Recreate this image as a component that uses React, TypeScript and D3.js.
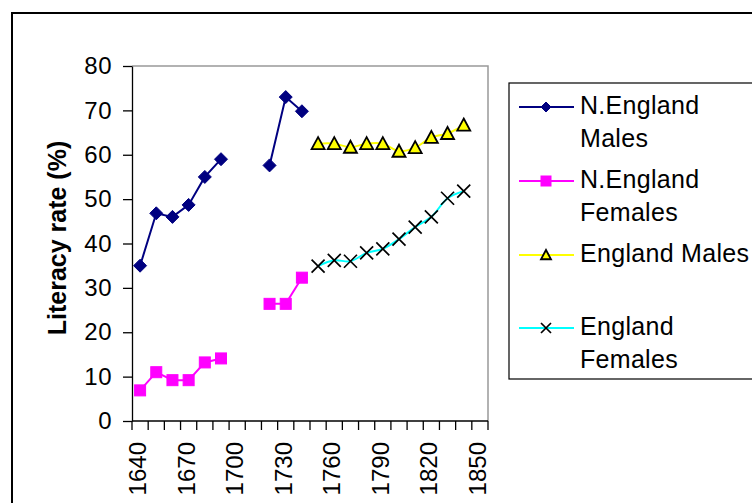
import React, { useRef, useEffect } from 'react';
import * as d3 from 'd3';

const years = [1640, 1650, 1660, 1670, 1680, 1690, 1700, 1710, 1720, 1730, 1740,
  1750, 1760, 1770, 1780, 1790, 1800, 1810, 1820, 1830, 1840, 1850];
const labelYears = [1640, 1670, 1700, 1730, 1760, 1790, 1820, 1850];
const yTicks = [0, 10, 20, 30, 40, 50, 60, 70, 80];

// 1640 - 1740
const nEnglandYears = [1640, 1650, 1660, 1670, 1680, 1690, 1700, 1710, 1720, 1730, 1740];
const nEnglandMales = [35, 46.8, 46, 48.7, 55, 59, null, null, 57.6, 73, 69.8];
const nEnglandFemales = [6.9, 11, 9.2, 9.2, 13.2, 14.1, null, null, 26.4, 26.4, 32.3];

// 1750 - 1840
const englandYears = [1750, 1760, 1770, 1780, 1790, 1800, 1810, 1820, 1830, 1840];
const englandMales = [62.5, 62.5, 61.7, 62.5, 62.5, 60.8, 61.6, 63.9, 64.8, 66.7];
const englandFemales = [34.9, 36.2, 36, 37.9, 38.8, 41, 43.7, 46, 50.2, 51.8];

const legendItems = [
  { lines: ['N.England', 'Males'], color: '#000080', marker: 'diamond' },
  { lines: ['N.England', 'Females'], color: '#FF00FF', marker: 'square' },
  { lines: ['England Males'], color: '#FFFF00', marker: 'triangle' },
  { lines: ['England', 'Females'], color: '#00FFFF', marker: 'cross' }
];

const FONT = '"Liberation Sans", Arial, sans-serif';

export default function App() {
  const svgRef = useRef<SVGSVGElement>(null);

  useEffect(() => {
    if (!svgRef.current) return;
    const svg = d3.select(svgRef.current);
    svg.selectAll('*').remove();

    const plot = { left: 132, right: 488, top: 66, bottom: 421 };

    const x = d3.scaleBand<string>()
      .domain(years.map(String))
      .range([plot.left, plot.right]);
    const y = d3.scaleLinear().domain([0, 80]).range([plot.bottom, plot.top]);
    const cx = (yr: number) => x(String(yr))! + x.bandwidth() / 2;

    // outer chart border
    svg.append('rect')
      .attr('x', 12).attr('y', 13)
      .attr('width', 800).attr('height', 600)
      .attr('fill', 'white')
      .attr('stroke', 'black')
      .attr('stroke-width', 2);

    // plot area border (grey top / right)
    svg.append('path')
      .attr('d', `M${plot.left},${plot.top}H${plot.right}V${plot.bottom}`)
      .attr('fill', 'none')
      .attr('stroke', '#999')
      .attr('stroke-width', 1.5);

    // y axis
    const yAxis = svg.append('g')
      .attr('transform', `translate(${plot.left},0)`)
      .call(d3.axisLeft(y).tickValues(yTicks).tickSize(9).tickSizeOuter(0).tickPadding(11));
    yAxis.select('.domain').attr('stroke', 'black').attr('stroke-width', 1.3);
    yAxis.selectAll('.tick line').attr('stroke', 'black').attr('stroke-width', 1.3);
    yAxis.selectAll('.tick text')
      .attr('font-family', FONT)
      .attr('font-size', 24)
      .attr('letter-spacing', 0.5)
      .attr('fill', 'black');

    // x axis
    svg.append('line')
      .attr('x1', plot.left).attr('x2', plot.right)
      .attr('y1', plot.bottom).attr('y2', plot.bottom)
      .attr('stroke', 'black').attr('stroke-width', 1.3);
    const boundaries = years.map(yr => x(String(yr))!).concat([plot.right]);
    svg.append('g').selectAll('line')
      .data(boundaries)
      .enter()
      .append('line')
      .attr('x1', d => d).attr('x2', d => d)
      .attr('y1', plot.bottom).attr('y2', plot.bottom + 9)
      .attr('stroke', 'black').attr('stroke-width', 1.3);
    svg.append('g').selectAll('text')
      .data(labelYears)
      .enter()
      .append('text')
      .attr('transform', d => `translate(${cx(d) + 6},${plot.bottom + 21}) rotate(-90)`)
      .attr('text-anchor', 'end')
      .attr('font-family', FONT)
      .attr('font-size', 24)
      .attr('fill', 'black')
      .text(d => d);

    // y axis title
    svg.append('text')
      .attr('transform', 'translate(66,238) rotate(-90)')
      .attr('text-anchor', 'middle')
      .attr('font-family', FONT)
      .attr('font-size', 25)
      .attr('font-weight', 'bold')
      .attr('fill', 'black')
      .text('Literacy rate (%)');

    type Pt = { yr: number; v: number | null };
    const toPts = (ys: number[], vs: (number | null)[]): Pt[] => ys.map((yr, i) => ({ yr, v: vs[i] }));

    const straight = d3.line<Pt>()
      .defined(d => d.v !== null)
      .x(d => cx(d.yr))
      .y(d => y(d.v as number));
    const smooth = d3.line<Pt>()
      .x(d => cx(d.yr))
      .y(d => y(d.v as number))
      .curve(d3.curveCatmullRom.alpha(0.5));

    const nem = toPts(nEnglandYears, nEnglandMales);
    const nef = toPts(nEnglandYears, nEnglandFemales);
    const em = toPts(englandYears, englandMales);
    const ef = toPts(englandYears, englandFemales);

    const drawMarker = (g: any, kind: string, px: number, py: number, size: number, color: string) => {
      const s = size / 2;
      if (kind === 'diamond') {
        g.append('path')
          .attr('d', `M${px},${py - s}L${px + s},${py}L${px},${py + s}L${px - s},${py}Z`)
          .attr('fill', color).attr('stroke', color).attr('stroke-width', 1);
      } else if (kind === 'square') {
        g.append('rect')
          .attr('x', px - s).attr('y', py - s)
          .attr('width', size).attr('height', size)
          .attr('fill', color).attr('stroke', color).attr('stroke-width', 1);
      } else if (kind === 'triangle') {
        g.append('path')
          .attr('d', `M${px},${py - s}L${px + s},${py + s * 0.85}L${px - s},${py + s * 0.85}Z`)
          .attr('fill', color).attr('stroke', 'black').attr('stroke-width', 1.8);
      } else {
        g.append('path')
          .attr('d', `M${px - s},${py - s}L${px + s},${py + s}M${px - s},${py + s}L${px + s},${py - s}`)
          .attr('stroke', 'black').attr('stroke-width', 1.7).attr('fill', 'none');
      }
    };

    const series = [
      { pts: nem, line: straight, color: '#000080', marker: 'diamond', size: 13 },
      { pts: nef, line: straight, color: '#FF00FF', marker: 'square', size: 11 },
      { pts: em, line: smooth, color: '#FFFF00', marker: 'triangle', size: 13 },
      { pts: ef, line: smooth, color: '#00FFFF', marker: 'cross', size: 13 }
    ];

    series.forEach(s => {
      svg.append('path')
        .attr('d', s.line(s.pts))
        .attr('fill', 'none')
        .attr('stroke', s.color)
        .attr('stroke-width', 2);
    });
    series.forEach(s => {
      const g = svg.append('g');
      s.pts.filter(p => p.v !== null).forEach(p => {
        drawMarker(g, s.marker, cx(p.yr), y(p.v as number), s.size, s.color);
      });
    });

    // legend
    const legend = svg.append('g');
    legend.append('rect')
      .attr('x', 509).attr('y', 83)
      .attr('width', 300).attr('height', 296)
      .attr('fill', 'white')
      .attr('stroke', 'black')
      .attr('stroke-width', 1.2);
    const entryY = [107, 181, 255, 328];
    legendItems.forEach((item, i) => {
      const ly = entryY[i];
      legend.append('line')
        .attr('x1', 519).attr('x2', 574)
        .attr('y1', ly).attr('y2', ly)
        .attr('stroke', item.color)
        .attr('stroke-width', 2);
      drawMarker(legend, item.marker, 546, ly, 10, item.color);
      item.lines.forEach((t, j) => {
        legend.append('text')
          .attr('x', 580)
          .attr('y', ly + 7 + j * 33)
          .attr('font-family', FONT)
          .attr('font-size', 25)
          .attr('letter-spacing', 0.3)
          .attr('fill', 'black')
          .text(t);
      });
    });
  }, []);

  return (
    <svg
      ref={svgRef}
      width={752}
      height={503}
      style={{ position: 'absolute', left: 0, top: 0, background: 'white' }}
    />
  );
}
